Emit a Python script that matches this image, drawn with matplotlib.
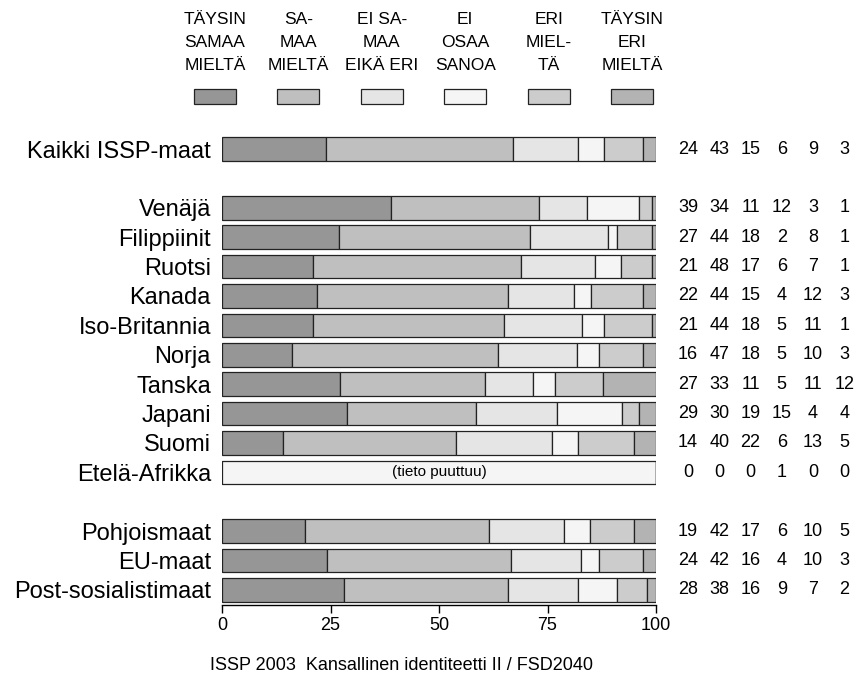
import matplotlib
matplotlib.use('Agg')
import matplotlib.pyplot as plt
from matplotlib.patches import Rectangle
from matplotlib import font_manager
import numpy as np

names = [f.name for f in font_manager.fontManager.ttflist]
plt.rcParams['font.family'] = ['Liberation Sans', 'DejaVu Sans']
narrow = 'Liberation Sans Narrow' if 'Liberation Sans Narrow' in names else 'Liberation Sans'

labels = ['Kaikki ISSP-maat',
          'Venäjä', 'Filippiinit', 'Ruotsi', 'Kanada', 'Iso-Britannia',
          'Norja', 'Tanska', 'Japani', 'Suomi', 'Etelä-Afrikka',
          'Pohjoismaat', 'EU-maat', 'Post-sosialistimaat']
slots = [0, 2, 3, 4, 5, 6, 7, 8, 9, 10, 11, 13, 14, 15]

tays_samaa = [24, 39, 27, 21, 22, 21, 16, 27, 29, 14, 0, 19, 24, 28]
samaa = [43, 34, 44, 48, 44, 44, 47, 33, 30, 40, 0, 42, 42, 38]
ei_samaa_eika_eri = [15, 11, 18, 17, 15, 18, 18, 11, 19, 22, 0, 17, 16, 16]
ei_osaa = [6, 12, 2, 6, 4, 5, 5, 5, 15, 6, 1, 6, 4, 9]
eri = [9, 3, 8, 7, 12, 11, 10, 11, 4, 13, 0, 10, 10, 7]
tays_eri = [3, 1, 1, 1, 3, 1, 3, 12, 4, 5, 0, 5, 3, 2]

legend_text = [['TÄYSIN', 'SAMAA', 'MIELTÄ'],
               ['SA-', 'MAA', 'MIELTÄ'],
               ['EI SA-', 'MAA', 'EIKÄ ERI'],
               ['EI', 'OSAA', 'SANOA'],
               ['ERI', 'MIEL-', 'TÄ'],
               ['TÄYSIN', 'ERI', 'MIELTÄ']]
colors = ['#969696', '#bfbfbf', '#e5e5e5', '#f5f5f5', '#cccccc', '#b3b3b3']

W, H = 855, 682
fig = plt.figure(figsize=(W / 100, H / 100), dpi=100)

# axes placement in pixels
x0, x1 = 222, 656
y_first, step = 149, 29.4
ylim_top, ylim_bot = -0.6, 15.51
top_px = y_first + ylim_top * step
bot_px = y_first + ylim_bot * step
ax = fig.add_axes([x0 / W, (H - bot_px) / H, (x1 - x0) / W, (bot_px - top_px) / H])

series = np.array([tays_samaa, samaa, ei_samaa_eika_eri, ei_osaa, eri, tays_eri], dtype=float)
pct = series / series.sum(axis=0) * 100
left = np.zeros(len(labels))
for k in range(6):
    ax.barh(slots, pct[k], left=left, height=0.8, color=colors[k],
            edgecolor='#222222', linewidth=0.9)
    left += pct[k]

ax.text(50, slots[labels.index('Etelä-Afrikka')], '(tieto puuttuu)',
        ha='center', va='center', fontsize=11)

# numbers on the right
for i, s in enumerate(slots):
    for k in range(6):
        ax.text(107.4 + 7.19 * k, s, str(int(series[k, i])), ha='center', va='center',
                fontsize=13, clip_on=False)

ax.set_xlim(0, 100)
ax.set_ylim(ylim_bot, ylim_top)
ax.set_yticks(slots)
ax.set_yticklabels(labels, fontsize=17)
ax.tick_params(axis='y', length=0, pad=8)
ax.set_xticks([0, 25, 50, 75, 100])
ax.tick_params(axis='x', length=6, width=1, labelsize=13, pad=3)
for sp in ['top', 'right', 'left']:
    ax.spines[sp].set_visible(False)
ax.spines['bottom'].set_linewidth(1)

# legend on top
for k in range(6):
    cx = 215 + 83.4 * k
    for j, line in enumerate(legend_text[k]):
        fig.text(cx / W, 1 - (20 + 22.5 * j) / H, line, ha='center', va='center',
                 fontsize=12.5, family=[narrow, 'DejaVu Sans'])
    fig.add_artist(Rectangle(((cx - 21) / W, 1 - 104 / H), 42 / W, 15 / H,
                             transform=fig.transFigure, facecolor=colors[k],
                             edgecolor='#222222', linewidth=0.9))

fig.text(401 / W, 1 - 665 / H, 'ISSP 2003  Kansallinen identiteetti II / FSD2040',
         ha='center', va='center', fontsize=13)

fig.savefig('out.png', dpi=100)
